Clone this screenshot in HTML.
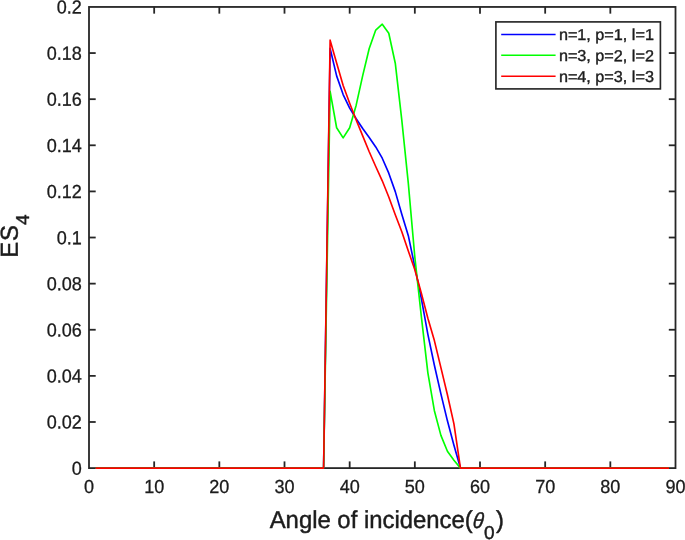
<!DOCTYPE html>
<html lang="en">
<head>
<meta charset="utf-8">
<title>ES4 vs Angle of incidence</title>
<style>
html,body{margin:0;padding:0;background:#fff;}
body{width:685px;height:540px;overflow:hidden;}
svg{display:block;}
text{text-rendering:geometricPrecision;font-family:"Liberation Sans",Arial,Helvetica,sans-serif;fill:#1c1c1c;stroke:#1c1c1c;stroke-width:0.45px;}
.t{font-size:18.9px;stroke-width:0.3px;}
.l{font-size:24.5px;}
.s{font-size:18.7px;}
.g{font-size:15.8px;stroke-width:0.4px;}
</style>
</head>
<body>
<svg width="685" height="540" viewBox="0 0 685 540">
<rect x="0" y="0" width="685" height="540" fill="#ffffff"/>
<g stroke="#262626" stroke-width="1.8" fill="none" stroke-linecap="butt">
<rect x="89.00" y="6.95" width="586.50" height="461.15"/>
<line x1="154.17" y1="468.10" x2="154.17" y2="461.40"/><line x1="154.17" y1="6.95" x2="154.17" y2="13.65"/>
<line x1="219.33" y1="468.10" x2="219.33" y2="461.40"/><line x1="219.33" y1="6.95" x2="219.33" y2="13.65"/>
<line x1="284.50" y1="468.10" x2="284.50" y2="461.40"/><line x1="284.50" y1="6.95" x2="284.50" y2="13.65"/>
<line x1="349.67" y1="468.10" x2="349.67" y2="461.40"/><line x1="349.67" y1="6.95" x2="349.67" y2="13.65"/>
<line x1="414.83" y1="468.10" x2="414.83" y2="461.40"/><line x1="414.83" y1="6.95" x2="414.83" y2="13.65"/>
<line x1="480.00" y1="468.10" x2="480.00" y2="461.40"/><line x1="480.00" y1="6.95" x2="480.00" y2="13.65"/>
<line x1="545.17" y1="468.10" x2="545.17" y2="461.40"/><line x1="545.17" y1="6.95" x2="545.17" y2="13.65"/>
<line x1="610.33" y1="468.10" x2="610.33" y2="461.40"/><line x1="610.33" y1="6.95" x2="610.33" y2="13.65"/>
<line x1="89.00" y1="421.99" x2="95.70" y2="421.99"/><line x1="675.50" y1="421.99" x2="668.80" y2="421.99"/>
<line x1="89.00" y1="375.87" x2="95.70" y2="375.87"/><line x1="675.50" y1="375.87" x2="668.80" y2="375.87"/>
<line x1="89.00" y1="329.75" x2="95.70" y2="329.75"/><line x1="675.50" y1="329.75" x2="668.80" y2="329.75"/>
<line x1="89.00" y1="283.64" x2="95.70" y2="283.64"/><line x1="675.50" y1="283.64" x2="668.80" y2="283.64"/>
<line x1="89.00" y1="237.52" x2="95.70" y2="237.52"/><line x1="675.50" y1="237.52" x2="668.80" y2="237.52"/>
<line x1="89.00" y1="191.41" x2="95.70" y2="191.41"/><line x1="675.50" y1="191.41" x2="668.80" y2="191.41"/>
<line x1="89.00" y1="145.30" x2="95.70" y2="145.30"/><line x1="675.50" y1="145.30" x2="668.80" y2="145.30"/>
<line x1="89.00" y1="99.18" x2="95.70" y2="99.18"/><line x1="675.50" y1="99.18" x2="668.80" y2="99.18"/>
<line x1="89.00" y1="53.06" x2="95.70" y2="53.06"/><line x1="675.50" y1="53.06" x2="668.80" y2="53.06"/>
</g>
<g fill="none" stroke-width="1.65" stroke-linejoin="round">
<polyline stroke="#0000ff" points="95.52,468.10 102.03,468.10 108.55,468.10 115.07,468.10 121.58,468.10 128.10,468.10 134.62,468.10 141.13,468.10 147.65,468.10 154.17,468.10 160.68,468.10 167.20,468.10 173.72,468.10 180.23,468.10 186.75,468.10 193.27,468.10 199.78,468.10 206.30,468.10 212.82,468.10 219.33,468.10 225.85,468.10 232.37,468.10 238.88,468.10 245.40,468.10 251.92,468.10 258.43,468.10 264.95,468.10 271.47,468.10 277.98,468.10 284.50,468.10 291.02,468.10 297.53,468.10 304.05,468.10 310.57,468.10 317.08,468.10 323.60,468.10 330.12,48.45 336.63,75.89 343.15,94.57 349.67,108.17 356.18,118.78 362.70,128.46 369.22,137.46 375.73,146.91 382.25,158.21 388.77,173.19 395.28,191.64 401.80,214.24 408.32,235.68 414.83,266.81 421.35,298.63 427.87,334.37 434.38,365.26 440.90,393.85 447.42,420.83 453.93,445.27 460.45,468.10 466.97,468.10 473.48,468.10 480.00,468.10 486.52,468.10 493.03,468.10 499.55,468.10 506.07,468.10 512.58,468.10 519.10,468.10 525.62,468.10 532.13,468.10 538.65,468.10 545.17,468.10 551.68,468.10 558.20,468.10 564.72,468.10 571.23,468.10 577.75,468.10 584.27,468.10 590.78,468.10 597.30,468.10 603.82,468.10 610.33,468.10 616.85,468.10 623.37,468.10 629.88,468.10 636.40,468.10 642.92,468.10 649.43,468.10 655.95,468.10 662.47,468.10 668.98,468.10"/>
<polyline stroke="#00ff00" points="95.52,468.10 102.03,468.10 108.55,468.10 115.07,468.10 121.58,468.10 128.10,468.10 134.62,468.10 141.13,468.10 147.65,468.10 154.17,468.10 160.68,468.10 167.20,468.10 173.72,468.10 180.23,468.10 186.75,468.10 193.27,468.10 199.78,468.10 206.30,468.10 212.82,468.10 219.33,468.10 225.85,468.10 232.37,468.10 238.88,468.10 245.40,468.10 251.92,468.10 258.43,468.10 264.95,468.10 271.47,468.10 277.98,468.10 284.50,468.10 291.02,468.10 297.53,468.10 304.05,468.10 310.57,468.10 317.08,468.10 323.60,468.10 330.12,91.34 336.63,127.77 343.15,137.92 349.67,127.77 356.18,105.17 362.70,75.66 369.22,48.45 375.73,30.01 382.25,24.24 388.77,33.24 395.28,63.21 401.80,120.16 408.32,183.34 414.83,257.12 421.35,316.61 427.87,372.87 434.38,410.69 440.90,435.36 447.42,451.27 453.93,460.26 460.45,468.10 466.97,468.10 473.48,468.10 480.00,468.10 486.52,468.10 493.03,468.10 499.55,468.10 506.07,468.10 512.58,468.10 519.10,468.10 525.62,468.10 532.13,468.10 538.65,468.10 545.17,468.10 551.68,468.10 558.20,468.10 564.72,468.10 571.23,468.10 577.75,468.10 584.27,468.10 590.78,468.10 597.30,468.10 603.82,468.10 610.33,468.10 616.85,468.10 623.37,468.10 629.88,468.10 636.40,468.10 642.92,468.10 649.43,468.10 655.95,468.10 662.47,468.10 668.98,468.10"/>
<polyline stroke="#ff0000" points="95.52,468.10 102.03,468.10 108.55,468.10 115.07,468.10 121.58,468.10 128.10,468.10 134.62,468.10 141.13,468.10 147.65,468.10 154.17,468.10 160.68,468.10 167.20,468.10 173.72,468.10 180.23,468.10 186.75,468.10 193.27,468.10 199.78,468.10 206.30,468.10 212.82,468.10 219.33,468.10 225.85,468.10 232.37,468.10 238.88,468.10 245.40,468.10 251.92,468.10 258.43,468.10 264.95,468.10 271.47,468.10 277.98,468.10 284.50,468.10 291.02,468.10 297.53,468.10 304.05,468.10 310.57,468.10 317.08,468.10 323.60,468.10 330.12,40.15 336.63,62.98 343.15,85.58 349.67,103.33 356.18,119.93 362.70,135.84 369.22,151.75 375.73,166.51 382.25,180.80 388.77,196.94 395.28,214.70 401.80,231.76 408.32,250.90 414.83,269.81 421.35,293.32 427.87,318.23 434.38,340.59 440.90,367.57 447.42,394.78 453.93,423.83 460.45,468.10 466.97,468.10 473.48,468.10 480.00,468.10 486.52,468.10 493.03,468.10 499.55,468.10 506.07,468.10 512.58,468.10 519.10,468.10 525.62,468.10 532.13,468.10 538.65,468.10 545.17,468.10 551.68,468.10 558.20,468.10 564.72,468.10 571.23,468.10 577.75,468.10 584.27,468.10 590.78,468.10 597.30,468.10 603.82,468.10 610.33,468.10 616.85,468.10 623.37,468.10 629.88,468.10 636.40,468.10 642.92,468.10 649.43,468.10 655.95,468.10 662.47,468.10 668.98,468.10"/>
</g>
<g>
<text class="t" text-anchor="middle" transform="translate(89.00,493.10) rotate(0.03) scale(0.955,1)">0</text><text class="t" text-anchor="middle" transform="translate(154.17,493.10) rotate(0.03) scale(0.955,1)">10</text><text class="t" text-anchor="middle" transform="translate(219.33,493.10) rotate(0.03) scale(0.955,1)">20</text><text class="t" text-anchor="middle" transform="translate(284.50,493.10) rotate(0.03) scale(0.955,1)">30</text><text class="t" text-anchor="middle" transform="translate(349.67,493.10) rotate(0.03) scale(0.955,1)">40</text><text class="t" text-anchor="middle" transform="translate(414.83,493.10) rotate(0.03) scale(0.955,1)">50</text><text class="t" text-anchor="middle" transform="translate(480.00,493.10) rotate(0.03) scale(0.955,1)">60</text><text class="t" text-anchor="middle" transform="translate(545.17,493.10) rotate(0.03) scale(0.955,1)">70</text><text class="t" text-anchor="middle" transform="translate(610.33,493.10) rotate(0.03) scale(0.955,1)">80</text><text class="t" text-anchor="middle" transform="translate(675.50,493.10) rotate(0.03) scale(0.955,1)">90</text>
</g>
<g>
<text class="t" text-anchor="end" transform="translate(81.80,474.75) rotate(0.03) scale(0.955,1)">0</text><text class="t" text-anchor="end" transform="translate(81.80,428.63) rotate(0.03) scale(0.955,1)">0.02</text><text class="t" text-anchor="end" transform="translate(81.80,382.52) rotate(0.03) scale(0.955,1)">0.04</text><text class="t" text-anchor="end" transform="translate(81.80,336.40) rotate(0.03) scale(0.955,1)">0.06</text><text class="t" text-anchor="end" transform="translate(81.80,290.29) rotate(0.03) scale(0.955,1)">0.08</text><text class="t" text-anchor="end" transform="translate(81.80,244.17) rotate(0.03) scale(0.955,1)">0.1</text><text class="t" text-anchor="end" transform="translate(81.80,198.06) rotate(0.03) scale(0.955,1)">0.12</text><text class="t" text-anchor="end" transform="translate(81.80,151.95) rotate(0.03) scale(0.955,1)">0.14</text><text class="t" text-anchor="end" transform="translate(81.80,105.83) rotate(0.03) scale(0.955,1)">0.16</text><text class="t" text-anchor="end" transform="translate(81.80,59.71) rotate(0.03) scale(0.955,1)">0.18</text><text class="t" text-anchor="end" transform="translate(81.80,13.60) rotate(0.03) scale(0.955,1)">0.2</text>
</g>
<text class="l" transform="translate(269.70,528.00) rotate(0.03) scale(0.974,1)">Angle of incidence(</text>
<text class="l" style="font-size:21.8px" font-style="italic" transform="translate(472.3,528.0) rotate(0.03) skewX(-6) scale(0.91,1)">θ</text>
<text class="s" transform="translate(483.90,539.00) rotate(0.03) scale(1.02,1)">0</text>
<text class="l" transform="translate(496.10,528.00) rotate(0.03) scale(0.974,1)">)</text>
<text class="l" transform="translate(17.80,257.70) rotate(-90.03) scale(0.974,1)">E<tspan dx="0.7">S</tspan></text>
<text class="s" transform="translate(29.10,225.00) rotate(-90.03) scale(1.02,1)">4</text>
<rect x="495.9" y="21.9" width="164.5" height="67.0" fill="#ffffff" stroke="#262626" stroke-width="1.65"/>
<g stroke-width="1.5" fill="none">
<line x1="501.2" y1="34.5" x2="555.6" y2="34.5" stroke="#0000ff"/>
<line x1="501.2" y1="55.3" x2="555.6" y2="55.3" stroke="#00ff00"/>
<line x1="501.2" y1="76.2" x2="555.6" y2="76.2" stroke="#ff0000"/>
</g>
<g>
<text class="g" transform="translate(558.90,40.00) rotate(0.03) scale(1.025,1)">n=1, p=1, l=1</text>
<text class="g" transform="translate(558.90,61.10) rotate(0.03) scale(1.025,1)">n=3, p=2, l=2</text>
<text class="g" transform="translate(558.90,82.00) rotate(0.03) scale(1.025,1)">n=4, p=3, l=3</text>
</g>
</svg>
</body>
</html>
